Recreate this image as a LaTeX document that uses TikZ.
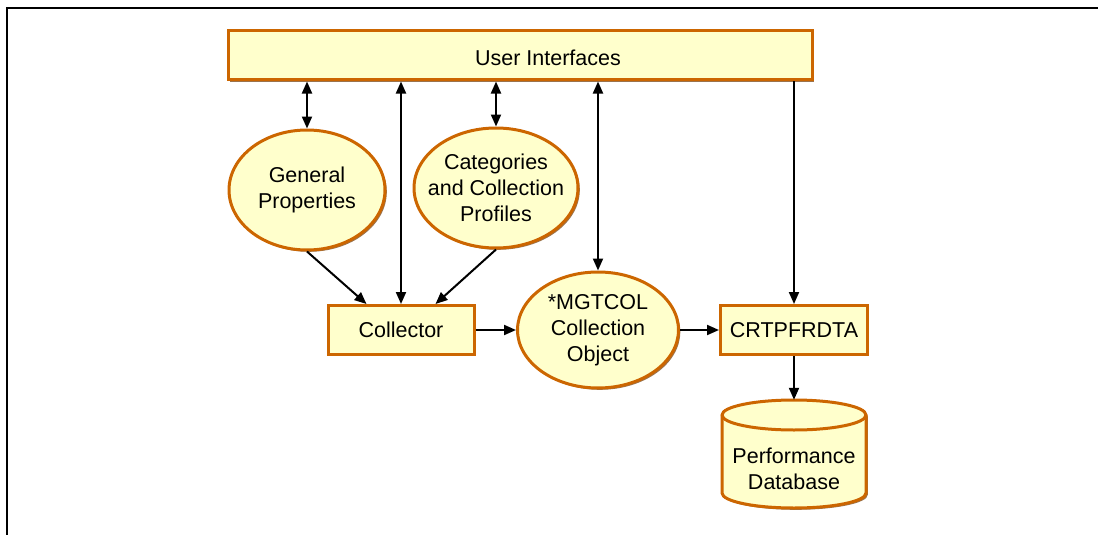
\documentclass[tikz,border=0pt]{standalone}
\usepackage{fontspec}
\setmainfont{Liberation Sans}
\usetikzlibrary{arrows.meta,shapes.geometric,shadows}
\definecolor{fillY}{HTML}{FFFFCC}
\definecolor{edgeO}{HTML}{CC6600}
\begin{document}
\begin{tikzpicture}[x=1pt,y=-1pt,
  shd/.style={drop shadow={shadow xshift=1.8pt,shadow yshift=-1.8pt,fill=edgeO!55!black,opacity=0.7}},
  box/.style={rectangle,draw=edgeO,line width=3pt,fill=fillY,inner sep=0pt,shd},
  oval/.style={ellipse,draw=edgeO,line width=3pt,fill=fillY,inner sep=0pt,align=center,shd},
  conn/.style={line width=2pt,-{Triangle[length=12pt,width=10pt]}},
  both/.style={line width=2pt,{Triangle[length=12pt,width=10pt]}-{Triangle[length=12pt,width=10pt]}},
  lbl/.style={align=center,inner sep=0pt},
  font=\fontsize{21.5}{26}\selectfont]
\useasboundingbox (0,0) rectangle (1098,535);
\draw[line width=1.6pt] (7,535) -- (7,8) -- (1098,8);

\node[box,minimum width=584pt,minimum height=49pt] (ui) at (520,55.5) {};
\node[lbl] (uil) at (548,58) {User Interfaces};

\node[oval,minimum width=156pt,minimum height=120pt] (gp) at (307,190) {};
\node[lbl] (gpl) at (gp.center) {General\\Properties};
\node[oval,minimum width=164pt,minimum height=120pt] (cat) at (496,188) {};
\node[lbl] (catl) at (cat.center) {Categories\\and Collection\\Profiles};
\node[box,minimum width=146pt,minimum height=49pt] (col) at (401,330) {Collector};
\node[oval,minimum width=161pt,minimum height=116pt] (mg) at (598,330) {};
\node[lbl] (mgl) at (mg.center) {*MGTCOL\\Collection\\Object};
\node[box,minimum width=147pt,minimum height=49pt] (crt) at (794,330) {CRTPFRDTA};

% cylinder
\fill[edgeO!55!black,opacity=0.7,shift={(1.8pt,-1.8pt)}] (722,415) -- (722,493) arc[start angle=180,end angle=360,x radius=72pt,y radius=15pt] -- (866,415) arc[start angle=0,end angle=180,x radius=72pt,y radius=15pt] -- cycle;
\filldraw[draw=edgeO,fill=fillY,line width=3pt] (722,415) -- (722,493) arc[start angle=180,end angle=360,x radius=72pt,y radius=15pt] -- (866,415) arc[start angle=0,end angle=180,x radius=72pt,y radius=15pt] -- cycle;
\draw[draw=edgeO,line width=3pt] (866,415) arc[start angle=0,end angle=-180,x radius=72pt,y radius=15pt];
\node[rectangle,minimum width=144pt,minimum height=108pt,inner sep=0pt] (db) at (794,454) {};
\node[lbl] (dbl) at (794,469) {Performance\\Database};

% connectors
\draw[both] (ui.south -| gp.north) -- (gp.north);
\draw[both] (ui.south -| col.north) -- (col.north);
\draw[both] (ui.south -| cat.north) -- (cat.north);
\draw[both] (ui.south -| mg.north) -- (mg.north);
\draw[conn] (ui.south -| crt.north) -- (crt.north);
\draw[conn] (gp.south) -- ([xshift=40pt]col.north west);
\draw[conn] (cat.south) -- ([xshift=-40pt]col.north east);
\draw[conn] (col.east) -- (mg.west);
\draw[conn] (mg.east) -- (crt.west);
\draw[conn] (crt.south) -- (db.north);
\end{tikzpicture}
\end{document}
